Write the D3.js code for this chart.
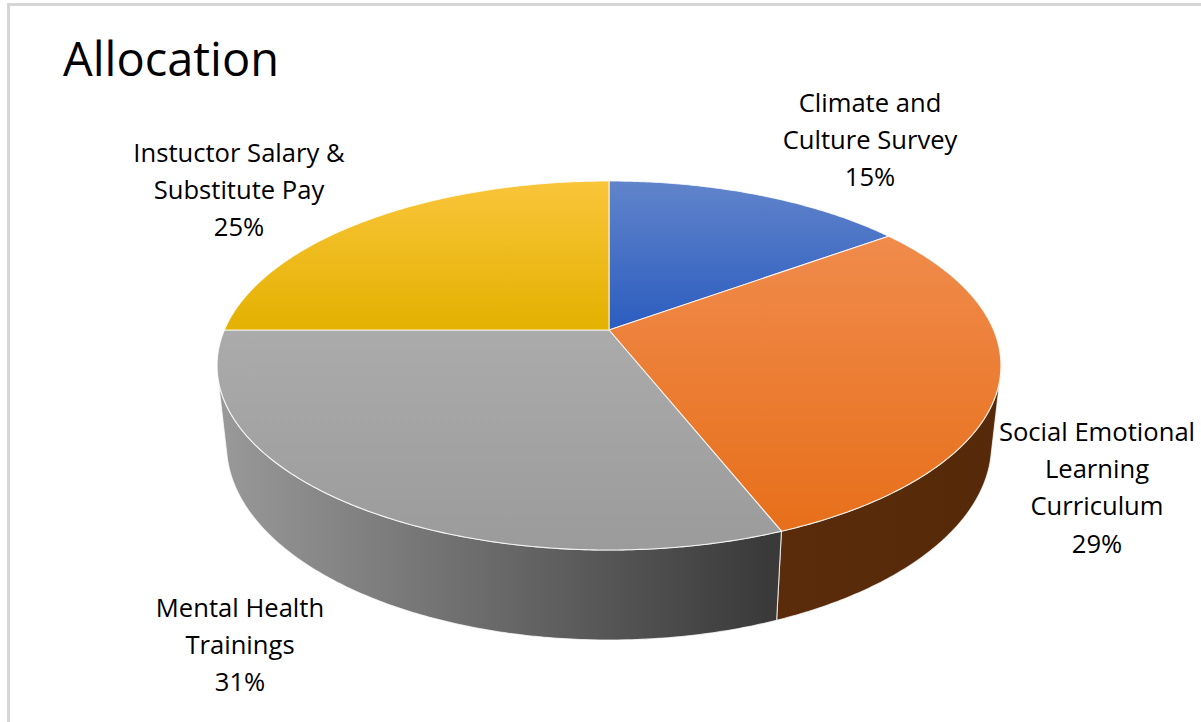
<!DOCTYPE html>
<html>
<head>
<meta charset="utf-8">
<script src="https://cdn.jsdelivr.net/npm/d3@7"></script>
<style>
  html, body { margin: 0; padding: 0; background: #fff; }
  svg { display: block; }
  text { font-family: "Open Sans", "DejaVu Sans", sans-serif; fill: #000; }
</style>
</head>
<body>
<svg id="chart" width="1201" height="722"></svg>
<script>
// ---- data ----
const title = "Allocation";
const categories = [
  "Climate and Culture Survey",
  "Social Emotional Learning Curriculum",
  "Mental Health Trainings",
  "Instuctor Salary & Substitute Pay"
];
const values = [15, 29, 31, 25];
const labelLines = [
  ["Climate and", "Culture Survey"],
  ["Social Emotional", "Learning", "Curriculum"],
  ["Mental Health", "Trainings"],
  ["Instuctor Salary &", "Substitute Pay"]
];

// ---- styling / layout ----
const W = 1201, H = 722;
const topColors = [["#6184cb", "#2b5cbf"], ["#f08b4c", "#e76f1a"], ["#ababab", "#9b9b9b"], ["#f9c53a", "#e3b100"]];
const sideColors = [["#2a4f94", "#1f3f7a"], ["#66330e", "#552909"], ["#9a9a9a", "#3a3a3a"], ["#b08a00", "#8f7000"]];
// label block anchors (centre x, first baseline y)
const labelLayout = [[870, 112], [1097, 441], [240, 617], [239, 162]];
const lineStep = 37.2;

// perspective camera for the 3-D disc
const cam = { cx: 609, cy: 330, F: 1773, D: 4.61, phi: Math.asin(0.462), h: 0.2345 };

function project(theta, level) {
  const X = Math.sin(theta), Z = -Math.cos(theta), Y = -cam.h * level;
  const yc = Y * Math.cos(cam.phi) - Z * Math.sin(cam.phi);
  const d = cam.D - (Y * Math.sin(cam.phi) + Z * Math.cos(cam.phi));
  return [cam.cx + cam.F * X / d, cam.cy - cam.F * yc / d];
}
function projectCenter(level) {
  const Y = -cam.h * level;
  const yc = Y * Math.cos(cam.phi);
  const d = cam.D - Y * Math.sin(cam.phi);
  return [cam.cx, cam.cy - cam.F * yc / d];
}
function arcPoints(a0, a1, level) {
  const n = Math.max(2, Math.ceil((a1 - a0) / 0.01));
  return d3.range(n + 1).map(i => project(a0 + (a1 - a0) * i / n, level));
}

const svg = d3.select("#chart");
svg.append("rect").attr("width", W).attr("height", H).attr("fill", "#fff");

// outer frame
svg.append("rect").attr("x", 7).attr("y", 3).attr("width", W - 7).attr("height", 3).attr("fill", "#d6d6d6");
svg.append("rect").attr("x", 7).attr("y", 3).attr("width", 3).attr("height", H - 3).attr("fill", "#d6d6d6");

const defs = svg.append("defs");
topColors.forEach((c, i) => {
  const g = defs.append("linearGradient").attr("id", "top" + i)
    .attr("x1", 0).attr("y1", 0).attr("x2", 0).attr("y2", 1);
  g.append("stop").attr("offset", "0%").attr("stop-color", c[0]);
  g.append("stop").attr("offset", "100%").attr("stop-color", c[1]);
});
sideColors.forEach((c, i) => {
  const g = defs.append("linearGradient").attr("id", "side" + i)
    .attr("gradientUnits", "userSpaceOnUse")
    .attr("x1", 215).attr("y1", 0).attr("x2", 1003).attr("y2", 0);
  if (i === 2) {
    g.append("stop").attr("offset", "0%").attr("stop-color", c[0]);
    g.append("stop").attr("offset", "70%").attr("stop-color", c[1]);
    g.append("stop").attr("offset", "100%").attr("stop-color", "#2e2e2e");
  } else {
    g.append("stop").attr("offset", "0%").attr("stop-color", c[0]);
    g.append("stop").attr("offset", "100%").attr("stop-color", c[1]);
  }
});

const pie = d3.pie().sort(null).value(d => d)(values);
const total = d3.sum(values);
const line = d3.line();

// visible band of the cylinder wall
const limit = Math.acos(-1 / (cam.D * Math.cos(cam.phi)));
const visA = limit, visB = 2 * Math.PI - limit;

const sides = svg.append("g");
pie.forEach((s, i) => {
  const a0 = Math.max(s.startAngle, visA), a1 = Math.min(s.endAngle, visB);
  if (a1 <= a0) return;
  const pts = arcPoints(a0, a1, 0).concat(arcPoints(a0, a1, 1).reverse());
  sides.append("path")
    .attr("d", line(pts) + "Z")
    .attr("fill", `url(#side${i})`)
    .attr("stroke", "#fff").attr("stroke-opacity", 0.75).attr("stroke-width", 1.1)
    .attr("stroke-linejoin", "round");
});

const tops = svg.append("g");
pie.forEach((s, i) => {
  const pts = [projectCenter(0)].concat(arcPoints(s.startAngle, s.endAngle, 0));
  tops.append("path")
    .attr("d", line(pts) + "Z")
    .attr("fill", `url(#top${i})`)
    .attr("stroke", "#fff").attr("stroke-opacity", 0.8).attr("stroke-width", 1.1)
    .attr("stroke-linejoin", "round");
});

// title
svg.append("text")
  .attr("x", 63).attr("y", 76)
  .attr("font-size", 47)
  .text(title);

// data labels
const pct = d3.format(".0%");
const labels = svg.append("g").attr("text-anchor", "middle").attr("font-size", 25.6);
pie.forEach((s, i) => {
  const [x, y] = labelLayout[i];
  const lines = labelLines[i].concat([pct(s.value / total)]);
  const t = labels.append("text").attr("x", x).attr("y", y);
  lines.forEach((ln, k) => {
    t.append("tspan").attr("x", x).attr("y", y + k * lineStep).text(ln);
  });
});
</script>
</body>
</html>
